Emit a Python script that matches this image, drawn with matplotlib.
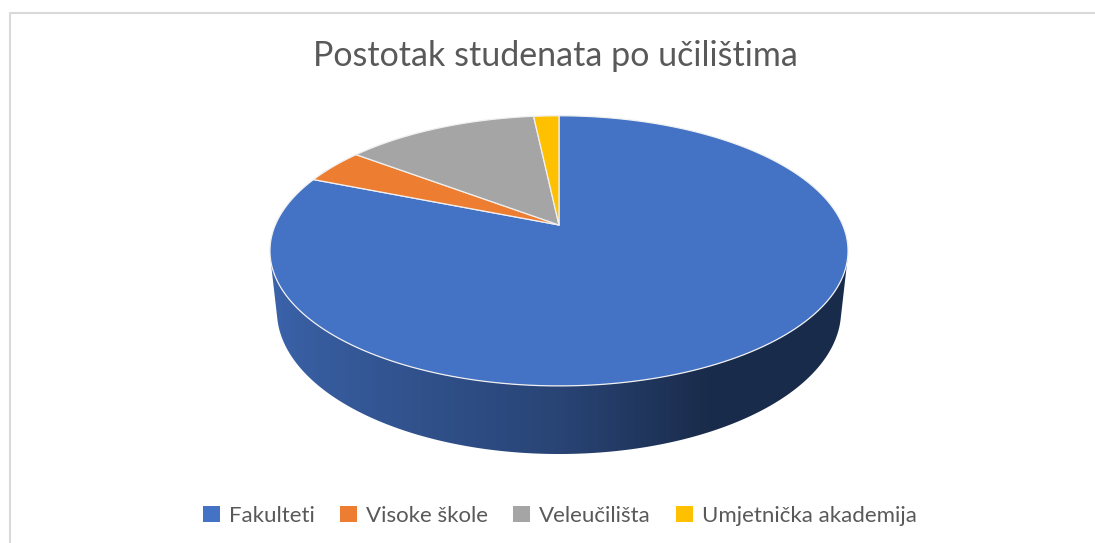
import numpy as np
import matplotlib.pyplot as plt
from matplotlib.colors import to_rgb
from matplotlib.patches import Polygon, Patch

plt.rcParams['font.family'] = ['Lato', 'DejaVu Sans']

categories = ['Fakulteti', 'Visoke škole', 'Veleučilišta', 'Umjetnička akademija']
shares = [81.1, 4.2, 13.0, 1.7]  # percent
colors = ['#4472C4', '#ED7D31', '#A5A5A5', '#FFC000']
title = 'Postotak studenata po učilištima'
text_color = '#595959'

# simple perspective camera for the 3d pie (pie radius = 1)
elev = np.radians(27.3)
dist = 4.645
focal = 1317.8
thick = 0.24
cx, cy = 559, 225  # where the pie centre lands (pixels)


def project(theta, z=0.0):
    # theta measured clockwise from the back of the pie
    X = np.sin(theta)
    Y = np.cos(theta)
    d = dist + Y * np.cos(elev) - z * np.sin(elev)
    u = X * focal / d
    w = (Y * np.sin(elev) + z * np.cos(elev)) * focal / d
    return cx + u, cy - w


def shade(theta):
    # darker to the right, like the excel lighting
    x = np.sin(theta)
    return np.interp(x, [-1.0, 0.0, 0.45, 1.0], [0.87, 0.60, 0.38, 0.38])


fig = plt.figure(figsize=(10.95, 5.43), dpi=100)
ax = fig.add_axes([0, 0, 1, 1])
ax.set_xlim(0, 1095)
ax.set_ylim(543, 0)
ax.axis('off')

# chart frame
ax.plot([10, 10, 1100], [560, 12.5, 12.5], color='#d9d9d9', lw=1.5,
        solid_capstyle='butt')

fracs = np.array(shares) / sum(shares)
edges = np.concatenate([[0], np.cumsum(fracs)]) * 2 * np.pi

# visible part of the side wall: one outline, filled with a gradient
lim = np.arccos(-1 / (dist * np.cos(elev)))
ts = np.linspace(lim, 2 * np.pi - lim, 600)
tx, ty = project(ts)
bx, by = project(ts, -thick)
side = Polygon(np.column_stack([np.r_[tx, bx[::-1]], np.r_[ty, by[::-1]]]),
               closed=True, facecolor='none', edgecolor='none')
ax.add_patch(side)

x0, x1 = min(tx.min(), bx.min()) - 2, max(tx.max(), bx.max()) + 2
cols = np.linspace(x0, x1, 800)
order = np.argsort(bx)
theta_at = np.interp(cols, bx[order], ts[order])
k = np.clip(np.searchsorted(edges, theta_at) - 1, 0, len(colors) - 1)
base = np.array([to_rgb(colors[i]) for i in k])
grad = np.clip(base * shade(theta_at)[:, None], 0, 1)[None, :, :]
y0, y1 = ty.min() - 2, by.max() + 2
im = ax.imshow(grad, extent=(x0, x1, y1, y0), aspect='auto',
               interpolation='bilinear', zorder=1)
im.set_clip_path(side)
ax.set_xlim(0, 1095)
ax.set_ylim(543, 0)

# top face
for i, c in enumerate(colors):
    t = np.linspace(edges[i], edges[i + 1], 200)
    px, py = project(t)
    pts = np.column_stack([np.r_[cx, px], np.r_[cy, py]])
    ax.add_patch(Polygon(pts, closed=True, facecolor=c, edgecolor='#f0f0f0',
                         lw=0.9, joinstyle='round', zorder=2))

# title, sized to the width in the reference
renderer = fig.canvas.get_renderer()
tt = ax.text(555, 66.5, title, ha='center', va='baseline', fontsize=20,
             color=text_color)
w = tt.get_window_extent(renderer).width
tt.set_fontsize(20 * 484 / w)

probe = ax.text(0, 0, categories[-1], fontsize=14)
lw_ = probe.get_window_extent(renderer).width
probe.remove()
lfs = 14 * 215 / lw_

handles = [Patch(facecolor=c, edgecolor='none') for c in colors]
fig.legend(handles, categories, loc='center', ncol=4, frameon=False,
           bbox_to_anchor=(560 / 1095, 1 - 516 / 543), fontsize=lfs,
           labelcolor=text_color, handlelength=0.75, handleheight=0.75,
           handletextpad=0.4, columnspacing=1.15, borderpad=0)

fig.savefig('out.png', dpi=100)
